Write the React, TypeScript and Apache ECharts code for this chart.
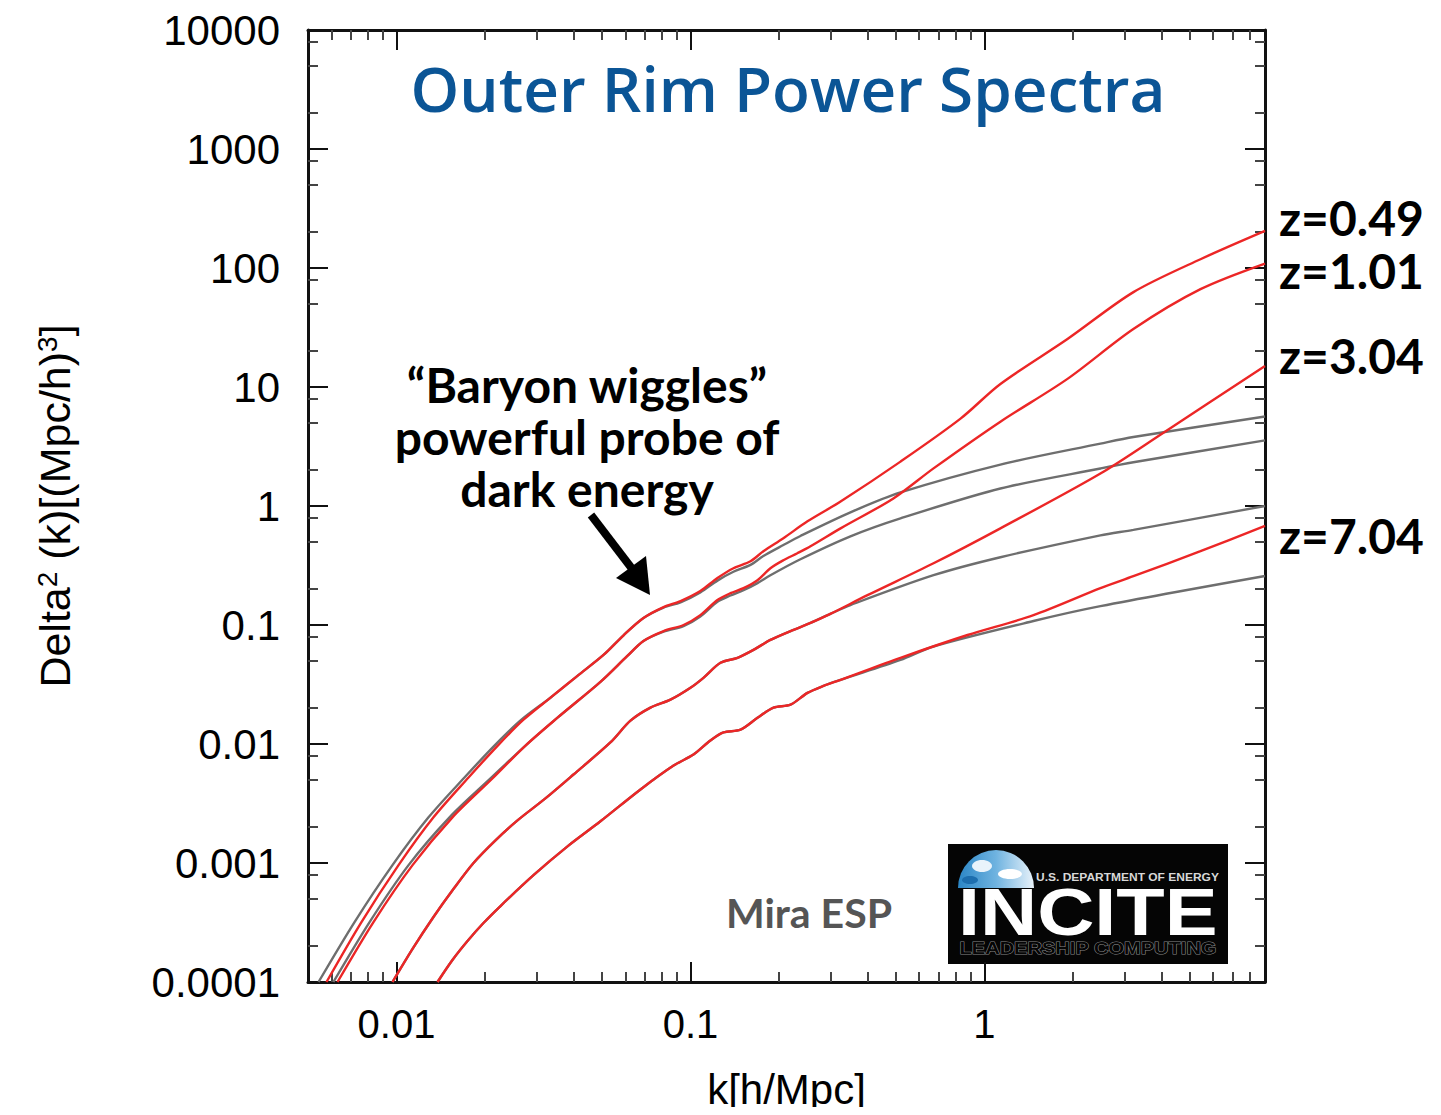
import React, { useEffect, useRef } from "react";
import * as echarts from "echarts";

// Nonlinear (red) and linear (gray) spectra: wavenumber k [h/Mpc] and Delta^2(k)
const kNL049 = [0.00578, 0.0076, 0.01016, 0.01336, 0.01758, 0.0221, 0.02704, 0.0334, 0.04126, 0.0506, 0.0592, 0.0692, 0.081, 0.0925, 0.108, 0.1235, 0.14, 0.16, 0.177, 0.207, 0.25, 0.324, 0.518, 0.829, 1.133, 1.916, 3.212, 5.43, 9.0];
const dNL049 = [1e-4, 3.19e-4, 9.6e-4, 2.42e-3, 5.23e-3, 9.7e-3, 0.016, 0.0245, 0.0374, 0.056, 0.082, 0.1145, 0.1415, 0.159, 0.193, 0.248, 0.3, 0.343, 0.417, 0.536, 0.743, 1.09, 2.36, 5.42, 10.6, 25.3, 62.7, 118.5, 205];

const kNL101 = [0.0063, 0.00835, 0.01134, 0.0155, 0.0212, 0.02747, 0.0353, 0.0494, 0.061, 0.0692, 0.081, 0.0947, 0.108, 0.1235, 0.1368, 0.1515, 0.169, 0.187, 0.207, 0.231, 0.256, 0.324, 0.49, 0.671, 1.133, 1.916, 3.21, 5.43, 9.0];
const dNL101 = [1e-4, 3.19e-4, 9.6e-4, 2.42e-3, 5.13e-3, 9.7e-3, 0.01664, 0.0333, 0.055, 0.0734, 0.089, 0.1, 0.121, 0.162, 0.185, 0.204, 0.238, 0.3, 0.35, 0.401, 0.459, 0.649, 1.158, 2.07, 5.11, 11.7, 30.7, 66.4, 109];

const kNL304 = [0.00969, 0.01134, 0.01336, 0.01562, 0.01828, 0.02171, 0.0258, 0.0321, 0.04, 0.0534, 0.0625, 0.0731, 0.0855, 0.1, 0.1107, 0.1265, 0.1445, 0.1638, 0.187, 0.219, 0.256, 0.299, 0.4, 0.671, 1.133, 2.48, 4.063, 9.0];
const dNL304 = [1e-4, 1.9e-4, 3.52e-4, 6.04e-4, 1e-3, 1.55e-3, 2.28e-3, 3.49e-3, 5.54e-3, 0.0103, 0.0157, 0.0202, 0.0236, 0.0297, 0.036, 0.0481, 0.053, 0.0618, 0.0749, 0.089, 0.104, 0.124, 0.178, 0.33, 0.649, 1.875, 4.13, 15.0];

const kNL704 = [0.01379, 0.0155, 0.01744, 0.01976, 0.02258, 0.02924, 0.03817, 0.0494, 0.0676, 0.0876, 0.1024, 0.1169, 0.1295, 0.148, 0.169, 0.1916, 0.219, 0.25, 0.2835, 0.324, 0.518, 0.876, 1.468, 2.48, 3.21, 5.43, 9.0];
const dNL704 = [1e-4, 1.53e-4, 2.21e-4, 3.13e-4, 4.35e-4, 7.9e-4, 1.38e-3, 2.24e-3, 4.15e-3, 6.59e-3, 8.15e-3, 0.0107, 0.0125, 0.0132, 0.0166, 0.0202, 0.0214, 0.0269, 0.0308, 0.0346, 0.053, 0.0824, 0.121, 0.204, 0.257, 0.417, 0.68];

const kLin049 = [0.00543, 0.0072, 0.00969, 0.01285, 0.01703, 0.02154, 0.0266, 0.0334, 0.04126, 0.0506, 0.0592, 0.0692, 0.081, 0.0925, 0.108, 0.1235, 0.14, 0.16, 0.177, 0.207, 0.2366, 0.35, 0.518, 1.133, 2.48, 3.21, 9.0];
const dLin049 = [1e-4, 3.19e-4, 9.6e-4, 2.42e-3, 5.23e-3, 9.7e-3, 0.016, 0.0245, 0.0374, 0.056, 0.082, 0.1145, 0.14, 0.155, 0.188, 0.236, 0.28, 0.32, 0.38, 0.47, 0.56, 0.884, 1.3, 2.23, 3.345, 3.8, 5.65];

const kLin101 = [0.0061, 0.0081, 0.01099, 0.01515, 0.02088, 0.02747, 0.0353, 0.0494, 0.061, 0.0692, 0.081, 0.0947, 0.108, 0.1235, 0.1368, 0.1515, 0.169, 0.187, 0.2366, 0.35, 0.518, 1.133, 2.48, 3.21, 9.0];
const dLin101 = [1e-4, 3.19e-4, 9.6e-4, 2.42e-3, 5.13e-3, 9.7e-3, 0.01664, 0.0333, 0.055, 0.0734, 0.088, 0.098, 0.118, 0.157, 0.177, 0.196, 0.225, 0.262, 0.357, 0.556, 0.787, 1.403, 2.065, 2.33, 3.56];

const kLin304 = [0.00969, 0.01134, 0.01336, 0.01562, 0.01828, 0.02171, 0.0258, 0.0321, 0.04, 0.0534, 0.0625, 0.0731, 0.0855, 0.1, 0.1107, 0.1265, 0.1445, 0.1638, 0.187, 0.219, 0.256, 0.299, 0.35, 0.671, 1.133, 2.48, 3.21, 9.0];
const dLin304 = [1e-4, 1.9e-4, 3.52e-4, 6.04e-4, 1e-3, 1.55e-3, 2.28e-3, 3.49e-3, 5.54e-3, 0.0103, 0.0157, 0.0202, 0.0236, 0.0297, 0.036, 0.0481, 0.053, 0.0618, 0.0749, 0.089, 0.104, 0.124, 0.147, 0.262, 0.371, 0.567, 0.63, 1.0];

const kLin704 = [0.01379, 0.0155, 0.01744, 0.01976, 0.02258, 0.02924, 0.03817, 0.0494, 0.0676, 0.0876, 0.1024, 0.1169, 0.1295, 0.148, 0.169, 0.1916, 0.219, 0.25, 0.2835, 0.324, 0.518, 0.671, 1.468, 2.48, 9.0];
const dLin704 = [1e-4, 1.53e-4, 2.21e-4, 3.13e-4, 4.35e-4, 7.9e-4, 1.38e-3, 2.24e-3, 4.15e-3, 6.59e-3, 8.15e-3, 0.0107, 0.0125, 0.0132, 0.0166, 0.0202, 0.0214, 0.0269, 0.0308, 0.0346, 0.0509, 0.066, 0.108, 0.144, 0.258];

// Axis ticks
const xMajor = [0.01, 0.1, 1];
const xMajorLabels = ["0.01", "0.1", "1"];
const xMinor = [0.006, 0.007, 0.008, 0.009, 0.02, 0.03, 0.04, 0.05, 0.06, 0.07, 0.08, 0.09, 0.2, 0.3, 0.4, 0.5, 0.6, 0.7, 0.8, 0.9, 2, 3, 4, 5, 6, 7, 8];
const yMajor = [0.0001, 0.001, 0.01, 0.1, 1, 10, 100, 1000, 10000];
const yMajorLabels = ["0.0001", "0.001", "0.01", "0.1", "1", "10", "100", "1000", "10000"];
const yMinor = [2e-4, 5e-4, 8e-4, 2e-3, 5e-3, 8e-3, 0.02, 0.05, 0.08, 0.2, 0.5, 0.8, 2, 5, 8, 20, 50, 80, 200, 500, 800, 2000, 5000, 8000];

const X_MIN = 0.005;
const X_MAX = 9;
const Y_MIN = 0.0001;
const Y_MAX = 10000;

const RED = "#ec2626";
const GRAY = "#6e6e6e";
const FRAME = "#111111";
const TICK_FONT = "'Liberation Sans', Arial, Helvetica, sans-serif";
const TEXT_FONT = "Lato, 'Open Sans', sans-serif";

const lg = (v: number) => Math.log10(v);
const pairs = (ks: number[], ds: number[]) => ks.map((k, i) => [lg(k), lg(ds[i])]);
const labelFor = (vals: number[], labels: string[]) => (v: number) => {
  const i = vals.findIndex((m) => Math.abs(lg(m) - v) < 1e-6);
  return i >= 0 ? labels[i] : "";
};

function makeXAxis(position: "top" | "bottom", values: number[], len: number, major: boolean, withLine: boolean, withLabels: boolean) {
  return {
    type: "value",
    gridIndex: 0,
    position,
    min: lg(X_MIN),
    max: lg(X_MAX),
    axisLine: { show: withLine, onZero: false, lineStyle: { color: FRAME, width: 3 } },
    axisTick: {
      show: true,
      inside: true,
      length: len,
      customValues: values.map(lg),
      lineStyle: { color: major ? "#111" : "#444", width: 2 },
    },
    axisLabel: withLabels
      ? {
          show: true,
          customValues: values.map(lg),
          formatter: labelFor(xMajor, xMajorLabels),
          fontFamily: TICK_FONT,
          fontSize: 40,
          color: "#000",
          margin: 22,
        }
      : { show: false },
    splitLine: { show: false },
    name: withLabels ? "k[h/Mpc]" : "",
    nameLocation: "middle",
    nameGap: 86,
    nameTextStyle: { fontFamily: TICK_FONT, fontSize: 42, color: "#000" },
  };
}

function makeYAxis(position: "left" | "right", values: number[], len: number, major: boolean, withLine: boolean, withLabels: boolean) {
  return {
    type: "value",
    gridIndex: 0,
    position,
    min: lg(Y_MIN),
    max: lg(Y_MAX),
    axisLine: { show: withLine, onZero: false, lineStyle: { color: FRAME, width: 3 } },
    axisTick: {
      show: true,
      inside: true,
      length: len,
      customValues: values.map(lg),
      lineStyle: { color: major ? "#111" : "#444", width: 2 },
    },
    axisLabel: withLabels
      ? {
          show: true,
          customValues: values.map(lg),
          formatter: labelFor(yMajor, yMajorLabels),
          fontFamily: TICK_FONT,
          fontSize: 42,
          color: "#000",
          margin: 28,
        }
      : { show: false },
    splitLine: { show: false },
    name: withLabels ? "{n|Delta}{s|2}{n| (k)[(Mpc/h)}{s|3}{n|]}" : "",
    nameLocation: "middle",
    nameGap: 232,
    nameRotate: 90,
    nameTextStyle: {
      color: "#000",
      rich: {
        n: { fontFamily: TICK_FONT, fontSize: 43, color: "#000" },
        s: { fontFamily: TICK_FONT, fontSize: 28, color: "#000", verticalAlign: "top" },
      },
    },
  };
}

function lineSeries(name: string, data: number[][], color: string, z: number) {
  return {
    name,
    type: "line",
    xAxisIndex: 0,
    yAxisIndex: 0,
    data,
    showSymbol: false,
    smooth: 0.3,
    clip: true,
    z,
    lineStyle: { color, width: 2.4 },
    emphasis: { disabled: true },
  };
}

export default function App() {
  const ref = useRef<HTMLDivElement>(null);

  useEffect(() => {
    if (!ref.current) return;
    const chart = echarts.init(ref.current, undefined, { renderer: "svg" });

    const zLabel = (text: string, y: number) => ({
      type: "text",
      x: 1279,
      y,
      style: {
        text,
        fontFamily: TEXT_FONT,
        fontWeight: "bold",
        fontSize: 48,
        fill: "#000",
        align: "left",
        verticalAlign: "middle",
      },
      z: 10,
    });

    chart.setOption({
      animation: false,
      backgroundColor: "#ffffff",
      grid: { left: 308, right: 176, top: 30, bottom: 130, containLabel: false },
      xAxis: [
        makeXAxis("bottom", xMajor, 20, true, true, true),
        makeXAxis("bottom", xMinor, 10, false, false, false),
        makeXAxis("top", xMajor, 20, true, true, false),
        makeXAxis("top", xMinor, 10, false, false, false),
      ],
      yAxis: [
        makeYAxis("left", yMajor, 20, true, true, true),
        makeYAxis("left", yMinor, 10, false, false, false),
        makeYAxis("right", yMajor, 20, true, true, false),
        makeYAxis("right", yMinor, 10, false, false, false),
      ],
      series: [
        lineSeries("linear z=0.49", pairs(kLin049, dLin049), GRAY, 2),
        lineSeries("linear z=1.01", pairs(kLin101, dLin101), GRAY, 2),
        lineSeries("linear z=3.04", pairs(kLin304, dLin304), GRAY, 2),
        lineSeries("linear z=7.04", pairs(kLin704, dLin704), GRAY, 2),
        lineSeries("z=0.49", pairs(kNL049, dNL049), RED, 3),
        lineSeries("z=1.01", pairs(kNL101, dNL101), RED, 3),
        lineSeries("z=3.04", pairs(kNL304, dNL304), RED, 3),
        lineSeries("z=7.04", pairs(kNL704, dNL704), RED, 3),
      ],
      graphic: [
        {
          type: "text",
          x: 788,
          y: 88,
          style: {
            text: "Outer Rim Power Spectra",
            fontFamily: "'Open Sans', sans-serif",
            fontWeight: 600,
            fontSize: 62,
            fill: "#0b5596",
            align: "center",
            verticalAlign: "middle",
          },
          z: 10,
        },
        {
          type: "text",
          x: 587,
          y: 358,
          style: {
            text: "\u201CBaryon wiggles\u201D\npowerful probe of\ndark energy",
            fontFamily: TEXT_FONT,
            fontWeight: "bold",
            fontSize: 48,
            lineHeight: 52,
            fill: "#000",
            align: "center",
            verticalAlign: "top",
          },
          z: 10,
        },
        {
          type: "line",
          shape: { x1: 591, y1: 515, x2: 633, y2: 570 },
          style: { stroke: "#000", lineWidth: 8 },
          z: 10,
        },
        {
          type: "polygon",
          shape: { points: [[650, 595], [616, 578], [646, 556]] },
          style: { fill: "#000" },
          z: 10,
        },
        zLabel("z=0.49", 217),
        zLabel("z=1.01", 270),
        zLabel("z=3.04", 355),
        zLabel("z=7.04", 535),
        {
          type: "text",
          x: 809,
          y: 912,
          style: {
            text: "Mira ESP",
            fontFamily: TEXT_FONT,
            fontWeight: "bold",
            fontSize: 41,
            fill: "#555",
            align: "center",
            verticalAlign: "middle",
          },
          z: 10,
        },
        {
          type: "group",
          x: 948,
          y: 844,
          z: 10,
          children: [
            { type: "rect", shape: { x: 0, y: 0, width: 280, height: 120 }, style: { fill: "#050505" } },
            {
              type: "sector",
              shape: { cx: 48, cy: 44, r: 38, startAngle: Math.PI, endAngle: Math.PI * 2 },
              style: {
                fill: new echarts.graphic.LinearGradient(0, 0, 1, 0, [
                  { offset: 0, color: "#2b86c6" },
                  { offset: 0.5, color: "#6fb3e0" },
                  { offset: 1, color: "#e8f2fa" },
                ]),
              },
            },
            { type: "ellipse", shape: { cx: 34, cy: 22, rx: 10, ry: 6 }, style: { fill: "#e9f3fb" } },
            { type: "ellipse", shape: { cx: 62, cy: 30, rx: 12, ry: 5 }, style: { fill: "#ffffff" } },
            { type: "ellipse", shape: { cx: 22, cy: 36, rx: 8, ry: 4 }, style: { fill: "#1d6eae" } },
            {
              type: "text",
              x: 88,
              y: 33,
              scaleX: 1.2,
              style: {
                text: "U.S. DEPARTMENT OF ENERGY",
                fontFamily: TICK_FONT,
                fontWeight: "bold",
                fontSize: 10,
                fill: "#d8d8d8",
                verticalAlign: "middle",
              },
            },
            {
              type: "text",
              x: 10,
              y: 35,
              scaleX: 1.2,
              style: {
                text: "INCITE",
                fontFamily: TICK_FONT,
                fontWeight: 900,
                fontSize: 66,
                fill: "#ffffff",
                verticalAlign: "top",
              },
            },
            {
              type: "text",
              x: 140,
              y: 104,
              scaleX: 1.18,
              style: {
                text: "LEADERSHIP COMPUTING",
                fontFamily: TICK_FONT,
                fontWeight: "bold",
                fontSize: 17,
                fill: "#050505",
                stroke: "#8a8a8a",
                lineWidth: 1,
                align: "center",
                verticalAlign: "middle",
              },
            },
          ],
        },
      ],
    });

    return () => {
      chart.dispose();
    };
  }, []);

  return <div ref={ref} style={{ width: 1441, height: 1115, margin: -8 }} />;
}
